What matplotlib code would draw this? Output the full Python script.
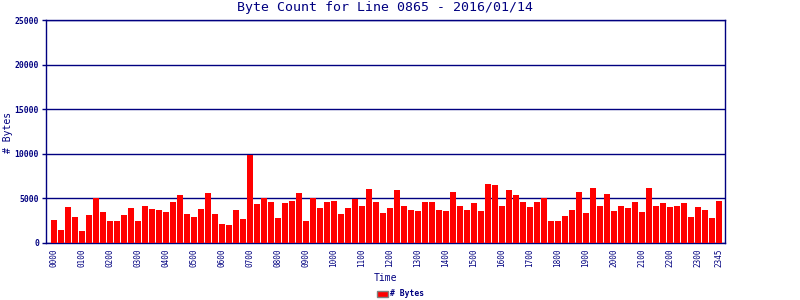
import matplotlib
matplotlib.use("Agg")
import matplotlib.pyplot as plt
import matplotlib.patches as mpatches
import numpy as np

# bytes per 15 minute slot, 0000 .. 2345
byte_counts = [
    2550, 1450, 4000, 2900, 1350, 3100, 5000, 3450, 2450, 2450, 3100, 3900, 2450,
    4200, 3800, 3650, 3450, 4650, 5350, 3200, 2900, 3800, 5650, 3200, 2100, 2000,
    3650, 2650, 9900, 4350, 5000, 4650, 2750, 4450, 4750, 5650, 2450, 5100, 3900,
    4650, 4750, 3200, 3900, 4900, 4200, 6000, 4550, 3350, 3900, 5900,
    4200, 3650, 3550, 4650, 4650, 3650, 3550, 5750, 4200, 3750, 4450, 3550, 6650,
    6550, 4100, 5900, 5350, 4550, 4000, 4550, 5100, 2450, 2450, 3000, 3650, 5750, 3350,
    6200, 4200, 5450, 3550, 4200, 3900, 4550, 3450, 6200, 4200, 4450, 4000, 4200,
    4450, 2900, 4000, 3750, 2750, 4750,
]
tick_pos = [0, 4, 8, 12, 16, 20, 24, 28, 32, 36, 40, 44, 48, 52, 56, 60,
            64, 68, 72, 76, 80, 84, 88, 92, 95]
tick_labels = ["0000", "0100", "0200", "0300", "0400", "0500", "0600", "0700",
               "0800", "0900", "1000", "1100", "1200", "1300", "1400", "1500",
               "1600", "1700", "1800", "1900", "2000", "2100", "2200", "2300", "2345"]
y_ticks = [0, 5000, 10000, 15000, 20000, 25000]

navy = "#000080"
mono = "DejaVu Sans Mono"

fig = plt.figure(figsize=(8, 3), dpi=100)
ax = fig.add_axes([46 / 800, 1 - 243 / 300, (725 - 46) / 800, (243 - 20) / 300])

x = np.arange(len(byte_counts))
ax.bar(x, byte_counts, width=0.86, color="#ff0000", edgecolor="none", zorder=3)

ax.set_xlim(-1.14, 95.86)
ax.set_ylim(0, 25000)
ax.set_yticks(y_ticks)
ax.set_yticklabels([str(v) for v in y_ticks], family=mono, fontsize=5.8,
                   fontweight="bold", color=navy)
ax.set_xticks(tick_pos)
ax.set_xticklabels(tick_labels, rotation=90, family=mono, fontsize=5.5,
                   color=navy)
ax.tick_params(axis="y", length=3, color=navy, width=1, pad=2)
ax.tick_params(axis="x", length=0, pad=4)

ax.yaxis.grid(True, color=navy, lw=1)
ax.set_axisbelow(True)
for s in ax.spines.values():
    s.set_color(navy)
    s.set_linewidth(1)

fig.text(385 / 800, 1 - 8 / 300, "Byte Count for Line 0865 - 2016/01/14",
         ha="center", va="center", family=mono, fontsize=9.5, color=navy)
fig.text(385 / 800, 1 - 278 / 300, "Time", ha="center", va="center",
         family=mono, fontsize=7, color=navy)
fig.text(8 / 800, 1 - 132 / 300, "# Bytes", ha="center", va="center",
         rotation=90, family=mono, fontsize=7, color=navy)

patch = mpatches.Patch(facecolor="#ff0000", edgecolor="#808080", label="# Bytes")
leg = fig.legend(handles=[patch], loc="center", bbox_to_anchor=(401 / 800, 1 - 294 / 300),
                 frameon=False, handlelength=1.3, handleheight=0.8, handletextpad=0.3,
                 prop={"family": mono, "size": 5.8, "weight": "bold"})
for t in leg.get_texts():
    t.set_color(navy)

fig.savefig("out.png", dpi=100)
